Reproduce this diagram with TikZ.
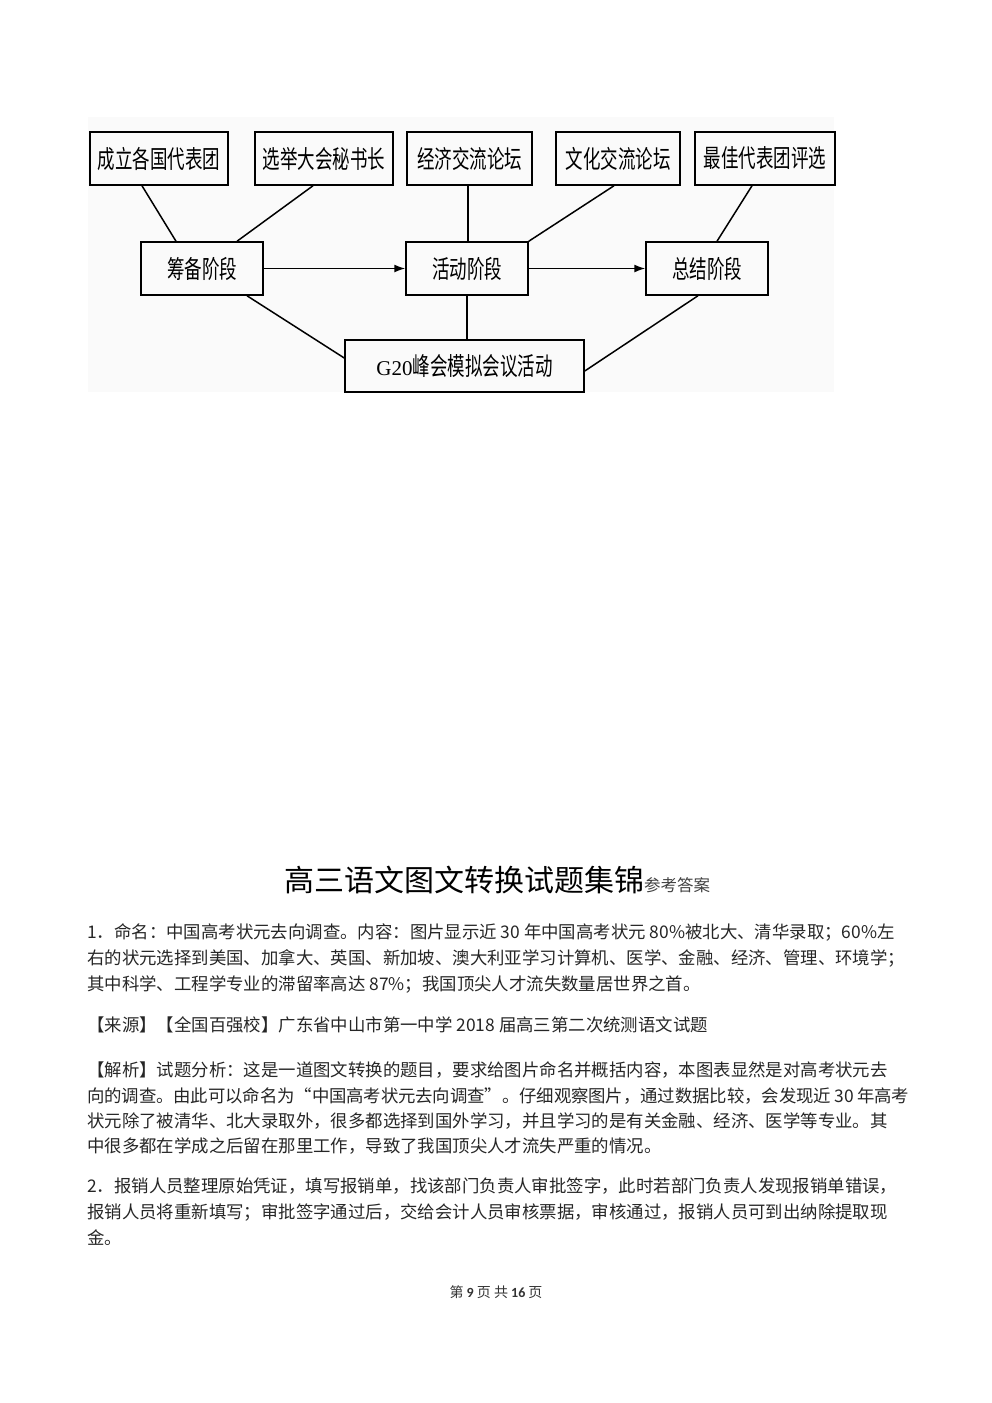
\documentclass[tikz,border=0pt]{standalone}
\usepackage{fontspec}
\setmainfont{Noto Sans CJK SC}
\newfontfamily\diagfont[FakeStretch=0.7]{Noto Sans CJK SC}
\newfontfamily\serifnum{Liberation Serif}
\newfontfamily\footnum{Carlito}
\usetikzlibrary{arrows.meta,calc}
\XeTeXlinebreaklocale "zh"
\XeTeXlinebreakskip=0pt plus 3pt minus 0.4pt
\setlength{\parindent}{0pt}
\newcommand{\bodysize}{\fontsize{17.4}{25}\selectfont}
\tikzset{
  box/.style={draw, line width=1.5pt, inner sep=0pt, minimum height=53pt,
    font=\diagfont\fontsize{25}{25}\selectfont},
  conn/.style={line width=1.5pt},
  arr/.style={line width=1.5pt, -{Latex[length=11pt,width=8pt]}},
  body/.style={anchor=base west, inner sep=0pt, text width=822pt, align=justify,
    font=\bodysize, text=black!85},
}
\begin{document}
\begin{tikzpicture}[x=1pt,y=-1pt]
\useasboundingbox (0,0) rectangle (992,1403);
\fill[black!2] (88,117) rectangle (834,392);

% top row
\node[box, minimum width=138pt] (a1) at (159,158.5) {成立各国代表团};
\node[box, minimum width=138pt] (a2) at (324,158.5) {选举大会秘书长};
\node[box, minimum width=125pt] (a3) at (469.5,158.5) {经济交流论坛};
\node[box, minimum width=124pt] (a4) at (618,158.5) {文化交流论坛};
\node[box, minimum width=140pt] (a5) at (765,158.5) {最佳代表团评选};
% middle row
\node[box, minimum width=122pt] (b1) at (202,268.5) {筹备阶段};
\node[box, minimum width=122pt] (b2) at (467,268.5) {活动阶段};
\node[box, minimum width=122pt] (b3) at (707,268.5) {总结阶段};
% bottom
\node[box, minimum width=239pt, minimum height=52pt] (c) at (464.5,366) {{\serifnum\fontsize{21}{21}\selectfont G20}峰会模拟会议活动};

% connectors
\draw[conn] ([xshift=-17pt]a1.south) -- ([xshift=-26pt]b1.north);
\draw[conn] ([xshift=-11pt]a2.south) -- ([xshift=35pt]b1.north);
\draw[conn] ([xshift=-1.5pt]a3.south) -- ([xshift=-1.5pt]a3.south |- b2.north);
\draw[conn] ([xshift=-4pt]a4.south) -- (b2.north east);
\draw[conn] ([xshift=-13pt]a5.south) -- ([xshift=10pt]b3.north);
\draw[arr] (b1.east) -- (b2.west);
\draw[arr] (b2.east) -- (b3.west);
\draw[conn] ([xshift=45pt]b1.south) -- ([yshift=8pt]c.west);
\draw[conn] (b2.south) -- (b2.south |- c.north);
\draw[conn] ([xshift=-9pt]b3.south) -- ([yshift=-5pt]c.east);

% title
\node[anchor=base, inner sep=0pt] (title) at (497,891)
  {{\fontsize{30}{30}\selectfont 高三语文图文转换试题集锦}{\fontsize{16.5}{16.5}\selectfont\color{black!75}参考答案}};

% answer 1
\node[body] (p1a) at (87,938) {\parfillskip=0pt 1．命名：中国高考状元去向调查。内容：图片显示近 30 年中国高考状元 80\%被北大、清华录取；60\%左};
\node[body] (p1b) at (87,964) {\parfillskip=0pt 右的状元选择到美国、加拿大、英国、新加坡、澳大利亚学习计算机、医学、金融、经济、管理、环境学；};
\node[body] (p1c) at (87,990) {其中科学、工程学专业的滞留率高达 87\%；我国顶尖人才流失数量居世界之首。};

\node[body] (src) at (87,1031) {【来源】【全国百强校】广东省中山市第一中学 2018 届高三第二次统测语文试题};

\node[body] (j1) at (87,1076) {\parfillskip=0pt 【解析】试题分析：这是一道图文转换的题目，要求给图片命名并概括内容，本图表显然是对高考状元去};
\node[body] (j2) at (87,1102) {\parfillskip=0pt 向的调查。由此可以命名为“中国高考状元去向调查”。仔细观察图片，通过数据比较，会发现近 30 年高考};
\node[body] (j3) at (87,1127) {\parfillskip=0pt 状元除了被清华、北大录取外，很多都选择到国外学习，并且学习的是有关金融、经济、医学等专业。其};
\node[body] (j4) at (87,1152) {中很多都在学成之后留在那里工作，导致了我国顶尖人才流失严重的情况。};

% answer 2
\node[body] (q2a) at (87,1192) {\parfillskip=0pt 2．报销人员整理原始凭证，填写报销单，找该部门负责人审批签字，此时若部门负责人发现报销单错误，};
\node[body] (q2b) at (87,1218) {\parfillskip=0pt 报销人员将重新填写；审批签字通过后，交给会计人员审核票据，审核通过，报销人员可到出纳除提取现};
\node[body] (q2c) at (87,1244) {金。};

% footer
\node[inner sep=0pt, text=black!80] (foot) at (496,1292)
  {\fontsize{14}{14}\selectfont 第 {\footnum\bfseries 9} 页 共 {\footnum\bfseries 16} 页};
\end{tikzpicture}
\end{document}
